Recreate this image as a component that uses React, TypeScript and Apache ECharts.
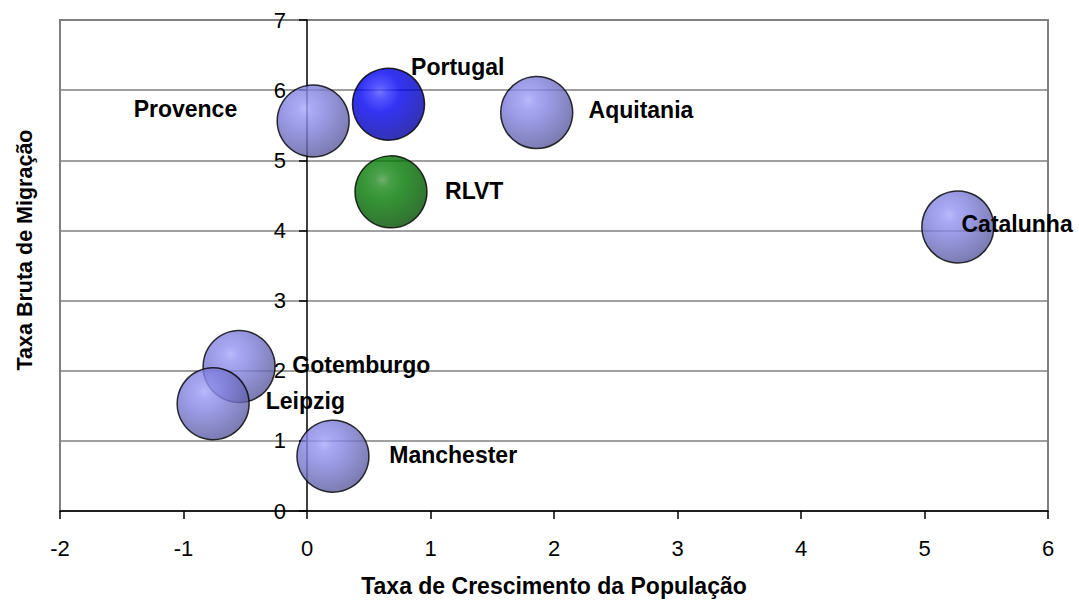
import React, { useEffect, useRef } from "react";
import * as echarts from "echarts";

const regions = ["Provence", "Portugal", "Aquitania", "RLVT", "Catalunha", "Gotemburgo", "Leipzig", "Manchester"];
const popGrowth = [0.05, 0.66, 1.86, 0.68, 5.27, -0.55, -0.76, 0.21];
const migration = [5.56, 5.8, 5.68, 4.55, 4.05, 2.06, 1.53, 0.78];
const xTicks = [-2, -1, 0, 1, 2, 3, 4, 5, 6];
const yTicks = [0, 1, 2, 3, 4, 5, 6, 7];

const FONT = '"Liberation Sans", Arial, sans-serif';
const SIZE = 72;

const labelOffsets: Record<string, [number, number]> = {
  Provence: [-127, -11],
  Portugal: [70, -36],
  Aquitania: [105, -2],
  RLVT: [84, 0],
  Catalunha: [60, -2],
  Gotemburgo: [123, -1],
  Leipzig: [93, -2],
  Manchester: [121, -1],
};

function grad(stops: string[]) {
  const offs = [0, 0.15, 0.4, 0.7, 1];
  return new echarts.graphic.RadialGradient(
    0.38,
    0.33,
    0.7,
    stops.map((c, i) => ({ offset: offs[i], color: c }))
  );
}

function colorFor(name: string) {
  if (name === "Portugal") return grad(["#5050ff", "#2a2aff", "#0000f0", "#0000c8", "#00009a"]);
  if (name === "RLVT") return grad(["#4c9c4c", "#1c881c", "#037a03", "#006400", "#004c00"]);
  return grad(["#a8a8fc", "#9494f0", "#8282e0", "#6e6ebe", "#5a5a9c"]);
}

export default function App() {
  const ref = useRef<HTMLDivElement>(null);
  useEffect(() => {
    if (!ref.current) return;
    const chart = echarts.init(ref.current, null, { renderer: "svg" });
    const data = regions.map((name, i) => ({
      name,
      value: [popGrowth[i], migration[i]],
      itemStyle: { color: colorFor(name), borderColor: "#000", borderWidth: 1.5 },
    }));
    chart.setOption({
      animation: false,
      backgroundColor: "#fff",
      grid: {
        left: 60,
        right: 31,
        top: 20,
        bottom: 91,
        show: true,
        borderColor: "#808080",
        borderWidth: 2,
        backgroundColor: "transparent",
      },
      xAxis: {
        type: "value",
        min: xTicks[0],
        max: xTicks[xTicks.length - 1],
        interval: 1,
        name: "Taxa de Crescimento da População",
        nameLocation: "middle",
        nameGap: 63,
        nameTextStyle: { fontFamily: FONT, fontSize: 23, fontWeight: "bold", color: "#000" },
        axisLine: { show: true, onZero: false, lineStyle: { color: "#000", width: 1.5 } },
        axisTick: { show: true, length: 8, lineStyle: { color: "#000", width: 1.5 } },
        axisLabel: { fontFamily: FONT, fontSize: 22, color: "#000", margin: 26 },
        splitLine: { show: false },
      },
      yAxis: {
        type: "value",
        min: yTicks[0],
        max: yTicks[yTicks.length - 1],
        interval: 1,
        offset: -247,
        axisLine: { show: true, onZero: false, lineStyle: { color: "#000", width: 1.5 } },
        axisTick: { show: true, length: 8, lineStyle: { color: "#000", width: 1.5 } },
        axisLabel: { fontFamily: FONT, fontSize: 22, color: "#000", margin: 21 },
        splitLine: { show: true, lineStyle: { color: "#808080", width: 1.5 } },
      },
      graphic: [
        {
          type: "text",
          x: 25,
          y: 250,
          rotation: Math.PI / 2,
          style: {
            text: "Taxa Bruta de Migração",
            fontFamily: FONT,
            fontSize: 21.5,
            fontWeight: "bold",
            fill: "#000",
            textAlign: "center",
            textVerticalAlign: "middle",
          },
        },
      ],
      series: [
        {
          type: "scatter",
          symbol: "circle",
          symbolSize: SIZE,
          data,
          label: {
            show: true,
            position: [SIZE / 2, SIZE / 2],
            align: "center",
            verticalAlign: "middle",
            formatter: "{b}",
            fontFamily: FONT,
            fontSize: 23,
            fontWeight: "bold",
            color: "#000000",
            textBorderWidth: 0,
            opacity: 1,
          },
          labelLayout: (params: any) => {
            const o = labelOffsets[regions[params.dataIndex]];
            return { dx: o[0], dy: o[1], hideOverlap: false };
          },
          z: 3,
        },
      ],
    });
    return () => chart.dispose();
  }, []);
  return <div ref={ref} style={{ position: "fixed", left: 0, top: 0, width: 1079, height: 602 }} />;
}
